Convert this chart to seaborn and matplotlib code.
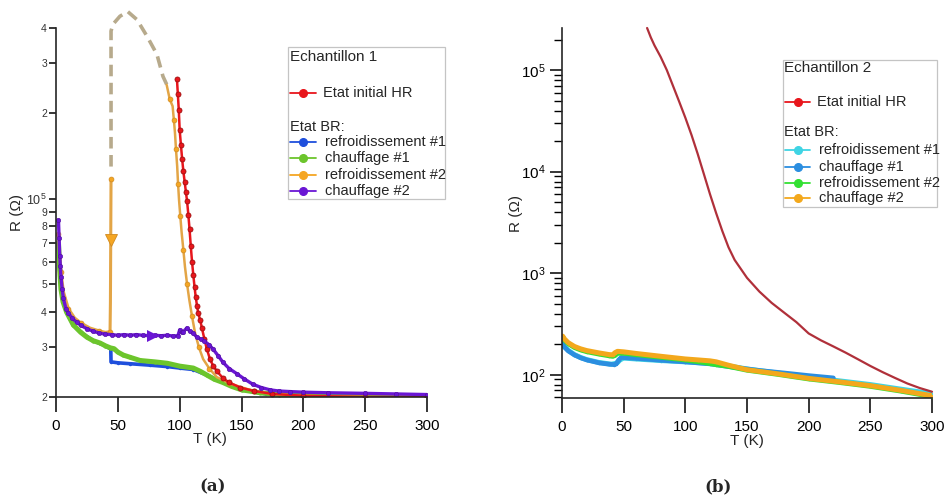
import matplotlib
matplotlib.use("Agg")
import matplotlib.pyplot as plt
import seaborn as sns
from matplotlib.lines import Line2D
from matplotlib.patches import Rectangle
from matplotlib.ticker import FixedLocator, FixedFormatter, NullLocator, LogLocator, NullFormatter, LogFormatterSciNotation

# ---------------- Panel (a) data : Echantillon 1 ----------------
a_hr_T = [97.8, 98.5, 99.3, 100, 101, 102, 103, 104, 105, 106, 107, 108, 109, 110, 111, 112, 113, 114,
          115, 116.5, 118, 120, 122, 124.5, 127, 130, 135, 140, 149, 160, 175, 200, 250, 300]
a_hr_R = [2.64e5, 2.35e5, 2.05e5, 1.75e5, 1.55e5, 1.38e5, 1.25e5, 1.15e5, 1.06e5, 9.8e4, 8.8e4, 7.8e4,
          6.8e4, 6.0e4, 5.4e4, 4.9e4, 4.5e4, 4.2e4, 3.95e4, 3.75e4, 3.5e4, 3.2e4, 2.95e4, 2.72e4, 2.58e4,
          2.47e4, 2.33e4, 2.25e4, 2.16e4, 2.1e4, 2.05e4, 2.02e4, 2.0e4, 2.0e4]

a_ref1_T = [300, 250, 200, 170, 150, 135, 122, 111, 100, 90, 76, 60, 50, 44.5, 44.3, 40, 30, 20, 14, 8.6, 5.7, 4, 3, 2]
a_ref1_R = [2.02e4, 2.02e4, 2.03e4, 2.05e4, 2.12e4, 2.25e4, 2.39e4, 2.5e4, 2.53e4, 2.56e4, 2.59e4, 2.62e4,
            2.64e4, 2.66e4, 2.95e4, 3.03e4, 3.16e4, 3.38e4, 3.59e4, 3.98e4, 4.33e4, 4.8e4, 5.6e4, 7.0e4]

a_ch1_T = [2, 3, 4, 5.7, 8.6, 14, 20, 25, 30, 35.6, 40, 44, 47, 50, 54.5, 60, 68, 80, 90, 100, 111, 117,
           122, 128, 135, 142, 150, 165, 180, 200, 250, 300]
a_ch1_R = [7.0e4, 5.6e4, 4.8e4, 4.33e4, 3.98e4, 3.59e4, 3.38e4, 3.25e4, 3.16e4, 3.1e4, 3.03e4, 2.98e4,
           2.96e4, 2.88e4, 2.81e4, 2.76e4, 2.69e4, 2.66e4, 2.63e4, 2.57e4, 2.53e4, 2.46e4, 2.39e4, 2.31e4,
           2.25e4, 2.18e4, 2.12e4, 2.07e4, 2.04e4, 2.03e4, 2.02e4, 2.02e4]

# refroidissement #2 : high-T branch (300 K -> 89.5 K) and low-T branch (44.5 K -> 2 K)
a_ref2_hi_T = [300, 250, 200, 175, 160, 149, 140, 130, 124, 119, 115.5, 112.4, 110, 107.8, 106, 104.3, 103,
               101.6, 100.5, 99.5, 98.7, 98, 97, 96.2, 95.3, 94.3, 92, 89.5]
a_ref2_hi_R = [2.0e4, 2.0e4, 2.02e4, 2.05e4, 2.1e4, 2.17e4, 2.24e4, 2.35e4, 2.52e4, 2.72e4, 3.0e4, 3.37e4,
               3.85e4, 4.4e4, 5.0e4, 5.75e4, 6.6e4, 7.6e4, 8.7e4, 9.9e4, 1.13e5, 1.3e5, 1.5e5, 1.71e5,
               1.9e5, 2.12e5, 2.24e5, 2.52e5]
a_ref2_lo_T = [44.5, 44.0, 43.7, 40, 35, 27.5, 20, 15, 10, 6, 4, 3, 2]
a_ref2_lo_R = [1.17e5, 4.3e4, 3.4e4, 3.38e4, 3.42e4, 3.5e4, 3.65e4, 3.8e4, 4.1e4, 4.7e4, 5.5e4, 6.3e4, 7.5e4]
# unmeasured excursion (dashed)
a_gap_T = [89.5, 86.5, 81.6, 73.6, 65.5, 58, 51.7, 46, 44.5, 44.5]
a_gap_R = [2.53e5, 2.7e5, 3.23e5, 3.74e5, 4.28e5, 4.57e5, 4.4e5, 4.12e5, 3.9e5, 1.24e5]

a_ch2_T = [2, 2.5, 3, 3.5, 4, 5, 6, 8, 10, 13, 16.6, 20, 25, 30, 35, 40, 45, 50, 55, 60, 65, 70, 76, 80,
           85, 90, 95, 98.6, 100, 101.5, 103, 105.7, 108, 111, 114, 117, 120, 124, 127, 131, 135, 140,
           146, 152, 159, 166, 173, 180, 189, 200, 220, 250, 275, 300]
a_ch2_R = [8.4e4, 7.3e4, 6.3e4, 5.8e4, 5.3e4, 4.8e4, 4.45e4, 4.1e4, 3.95e4, 3.8e4, 3.67e4, 3.58e4, 3.48e4,
           3.41e4, 3.36e4, 3.33e4, 3.32e4, 3.3e4, 3.32e4, 3.3e4, 3.32e4, 3.3e4, 3.29e4, 3.3e4, 3.29e4,
           3.3e4, 3.28e4, 3.29e4, 3.45e4, 3.38e4, 3.4e4, 3.5e4, 3.42e4, 3.35e4, 3.25e4, 3.2e4, 3.15e4,
           3.05e4, 2.95e4, 2.8e4, 2.65e4, 2.52e4, 2.42e4, 2.32e4, 2.22e4, 2.16e4, 2.12e4, 2.1e4, 2.09e4,
           2.08e4, 2.07e4, 2.06e4, 2.05e4, 2.04e4]

a_arrow_down = (44.4, 7.17e4)
a_arrow_right = (78.6, 3.29e4)

a_xticks = [0, 50, 100, 150, 200, 250, 300]
a_yticks = [2e4, 3e4, 4e4, 5e4, 6e4, 7e4, 8e4, 9e4, 1e5, 2e5, 3e5, 4e5]
a_yticklabels = ["2", "3", "4", "5", "6", "7", "8", "9", "10$^5$", "2", "3", "4"]

# ---------------- Panel (b) data : Echantillon 2 ----------------
b_hr_T = [69, 72, 75, 80, 85, 90, 95, 100, 105, 110, 115, 120, 125, 130, 135, 140, 150, 160, 170, 180, 190,
          200, 210, 220, 230, 240, 250, 260, 270, 280, 290, 300]
b_hr_R = [2.6e5, 2.1e5, 1.75e5, 1.35e5, 1.0e5, 7.0e4, 4.9e4, 3.4e4, 2.3e4, 1.5e4, 9.5e3, 6.0e3, 3.9e3,
          2.6e3, 1.8e3, 1.35e3, 900, 660, 510, 410, 330, 255, 218, 190, 165, 142, 122, 106, 93, 82, 74, 68]

b_ref1_T = [300, 275, 250, 225, 200, 175, 150, 125, 100, 80, 60, 50, 47, 45, 43, 40, 30, 20, 15, 10, 5, 2, 0.5]
b_ref1_R = [65, 72, 80, 87, 95, 104, 114, 128, 134, 138, 143, 146, 140, 132, 129, 127, 132, 141, 148,
            158, 174, 190, 203]

b_ch1_T = [0.5, 2, 5, 10, 15, 20, 30, 38, 42, 44, 46, 48, 60, 80, 100, 120, 140, 160, 180, 200, 220]
b_ch1_R = [200, 187, 172, 157, 147, 140, 131, 127, 126, 128, 140, 148, 145, 139, 134, 128, 118, 110, 104, 98, 93]

b_ref2_T = [300, 275, 250, 225, 200, 175, 150, 135, 125, 115, 100, 80, 60, 50, 45, 43, 41, 38, 30, 20, 15,
            10, 5, 2, 0.5]
b_ref2_R = [61, 69, 77, 84, 91, 101, 111, 121, 126, 132, 140, 149, 158, 163, 163, 155, 152, 154, 160,
            169, 176, 186, 203, 220, 236]

b_ch2_T = [0.5, 2, 5, 10, 15, 20, 30, 38, 41, 43, 45, 50, 60, 80, 100, 110, 120, 125, 135, 150, 175, 200,
           225, 250, 275, 300]
b_ch2_R = [240, 225, 207, 190, 180, 173, 164, 158, 157, 165, 170, 168, 162, 152, 143, 140, 137, 134, 124,
           112, 102, 92, 85, 78, 70, 62]

b_xticks = [0, 50, 100, 150, 200, 250, 300]

legend_a_title = "Echantillon 1"
legend_b_title = "Echantillon 2"
legend_hr_label = "Etat initial HR"
legend_br_label = "Etat BR:"
legend_br_labels = ["refroidissement #1", "chauffage #1", "refroidissement #2", "chauffage #2"]

# ---------------- styling ----------------
sns.set_style("ticks")
plt.rcParams['font.family'] = ['Liberation Sans', 'DejaVu Sans']
plt.rcParams.update({
    'mathtext.fontset': 'custom',
    'mathtext.rm': 'Liberation Sans',
    'mathtext.it': 'Liberation Sans:italic',
    'mathtext.bf': 'Liberation Sans:bold',
    'mathtext.default': 'regular',
    'axes.linewidth': 1.2,
    'xtick.major.width': 1.1,
    'ytick.major.width': 1.1,
    'ytick.minor.width': 1.0,
    'xtick.color': 'black',
    'ytick.color': 'black',
})

W, H = 946, 497
fig = plt.figure(figsize=(W / 100, H / 100), dpi=100)
fig.patch.set_facecolor('white')


def fx(x):
    return x / W


def fy(y):
    return 1 - y / H


axa = fig.add_axes([fx(56), fy(397), fx(427) - fx(56), fy(28) - fy(397)])
axb = fig.add_axes([fx(562), fy(398), fx(932) - fx(562), fy(28) - fy(398)])
for ax in (axa, axb):
    ax.set_yscale('log')
    ax.set_facecolor('white')

RED = '#e8161c'
RED_EDGE = '#a01010'
BLUE = '#1f4fdc'
GREEN = '#6cc52c'
ORANGE = '#f5a623'
ORANGE_LINE = '#e3a546'
PURPLE = '#6a16d4'
TAN = '#b7aa8c'


def draw(ax, T, R, color, **kw):
    sns.lineplot(x=T, y=R, ax=ax, sort=False, estimator=None, color=color, legend=False, **kw)


# ---- panel (a) ----
draw(axa, a_ref1_T, a_ref1_R, BLUE, lw=2.6, marker='o', markersize=2.5, markeredgewidth=0)
draw(axa, a_ch1_T, a_ch1_R, GREEN, lw=3.6, marker='o', markersize=3, markeredgewidth=0)
draw(axa, a_gap_T, a_gap_R, TAN, lw=2.6, dashes=(3.2, 1.8), clip_on=False)
draw(axa, a_ref2_hi_T, a_ref2_hi_R, ORANGE_LINE, lw=1.8, marker='o', markersize=3.5,
     markerfacecolor=ORANGE, markeredgecolor='#d08a20', markeredgewidth=0.5, markevery=2)
draw(axa, a_ref2_lo_T, a_ref2_lo_R, ORANGE_LINE, lw=2.2, marker='o', markersize=3.5,
     markerfacecolor=ORANGE, markeredgecolor='#d08a20', markeredgewidth=0.5, markevery=2)
draw(axa, a_hr_T, a_hr_R, RED, lw=1.8, marker='o', markersize=3.6,
     markerfacecolor=RED, markeredgecolor=RED_EDGE, markeredgewidth=0.6)
draw(axa, a_ch2_T, a_ch2_R, PURPLE, lw=2.4, marker='o', markersize=3.2,
     markerfacecolor=PURPLE, markeredgecolor='#50109c', markeredgewidth=0.4)
axa.plot([a_arrow_down[0]], [a_arrow_down[1]], marker='v', markersize=9, color=ORANGE,
         markeredgecolor='#d08a20', markeredgewidth=0.6, linestyle='none', zorder=5)
axa.plot([a_arrow_right[0]], [a_arrow_right[1]], marker='>', markersize=9, color=PURPLE,
         markeredgewidth=0, linestyle='none', zorder=5)

axa.set_xlim(0, 300)
axa.set_ylim(2e4, 4e5)
axa.xaxis.set_major_locator(FixedLocator(a_xticks))
axa.yaxis.set_major_locator(FixedLocator(a_yticks))
axa.yaxis.set_major_formatter(FixedFormatter(a_yticklabels))
axa.yaxis.set_minor_locator(NullLocator())
axa.tick_params(axis='x', length=11, labelsize=11, pad=5, direction='out')
axa.tick_params(axis='y', length=5, labelsize=7.5, pad=1.5, direction='out', labelcolor='#333333')
for i, t in enumerate(axa.yaxis.get_major_ticks()):
    if i == 8:
        t.label1.set_fontsize(9)
axa.set_xlabel("T (K)", fontsize=11)
axa.xaxis.set_label_coords((210 - 56) / 371, (397 - 432) / 369)
axa.set_ylabel("R (Ω)", fontsize=11, labelpad=2)

# ---- panel (b) ----
draw(axb, b_ref1_T, b_ref1_R, '#3fd4e4', lw=3.6, marker='o', markersize=2.5, markeredgewidth=0)
draw(axb, b_ch1_T, b_ch1_R, '#2b8ee0', lw=3.4, marker='o', markersize=2.5, markeredgewidth=0)
draw(axb, b_ref2_T, b_ref2_R, '#33e033', lw=3.6, marker='o', markersize=2.5, markeredgewidth=0)
draw(axb, b_ch2_T, b_ch2_R, '#f3a81c', lw=3.6, marker='o', markersize=2.5, markeredgewidth=0)
draw(axb, b_hr_T, b_hr_R, '#b0303a', lw=1.6, clip_on=False)

axb.set_xlim(0, 300)
axb.set_ylim(59, 2.6e5)
axb.xaxis.set_major_locator(FixedLocator(b_xticks))
axb.yaxis.set_major_locator(LogLocator(base=10, numticks=10))
axb.yaxis.set_major_formatter(LogFormatterSciNotation())
axb.yaxis.set_minor_locator(LogLocator(base=10, subs=tuple(range(2, 10)), numticks=20))
axb.yaxis.set_minor_formatter(NullFormatter())
axb.tick_params(axis='x', length=11, labelsize=11, pad=5, direction='out')
axb.tick_params(axis='y', which='major', length=9, labelsize=11, pad=3, direction='out')
axb.tick_params(axis='y', which='minor', length=6, direction='out')
axb.set_xlabel("T (K)", fontsize=11, labelpad=0)
axb.set_ylabel("R (Ω)", fontsize=11, labelpad=-2)

for ax in (axa, axb):
    sns.despine(ax=ax)


# ---- legends drawn in figure pixel coordinates ----
def legend_box(box, title_xy, hr_y, br_y, entry_ys, line_x, text_x, colors, title):
    x0, y0, x1, y1 = box
    fig.add_artist(Rectangle((fx(x0), fy(y1)), fx(x1) - fx(x0), fy(y0) - fy(y1), transform=fig.transFigure,
                             facecolor='white', edgecolor='#c4c4c4', lw=0.9))
    fig.text(fx(title_xy[0]), fy(title_xy[1]), title, fontsize=11, va='center', ha='left')
    handles = [(hr_y, RED, legend_hr_label)] + list(zip(entry_ys, colors, legend_br_labels))
    for y, c, lab in handles:
        fig.add_artist(Line2D([fx(line_x[0]), fx(line_x[1])], [fy(y), fy(y)], transform=fig.transFigure,
                              color=c, lw=1.3))
        fig.add_artist(Line2D([fx((line_x[0] + line_x[1]) / 2)], [fy(y)], transform=fig.transFigure,
                              color=c, marker='o', markersize=5.5, linestyle='none'))
        fig.text(fx(text_x if lab != legend_hr_label else text_x - 2), fy(y), lab, fontsize=10.5,
                 va='center', ha='left')
    fig.text(fx(title_xy[0]), fy(br_y), legend_br_label, fontsize=10.5, va='center', ha='left')


legend_box((288, 47, 445, 199), (290, 57), 93, 127, [142, 158, 175, 191], (290, 316), 325,
           [BLUE, GREEN, ORANGE, PURPLE], legend_a_title)
legend_box((783, 60, 937, 207), (784, 68), 102, 132, [150, 167, 183, 198], (785, 810), 819,
           ['#3fd4e4', '#2b8ee0', '#33e033', '#f3a81c'], legend_b_title)

fig.text(fx(213), fy(487), "(a)", fontsize=12, fontweight='bold', family='DejaVu Serif',
         ha='center', va='center')
fig.text(fx(718), fy(487), "(b)", fontsize=12, fontweight='bold', family='DejaVu Serif',
         ha='center', va='center')

fig.savefig("out.png", dpi=100, facecolor='white')
